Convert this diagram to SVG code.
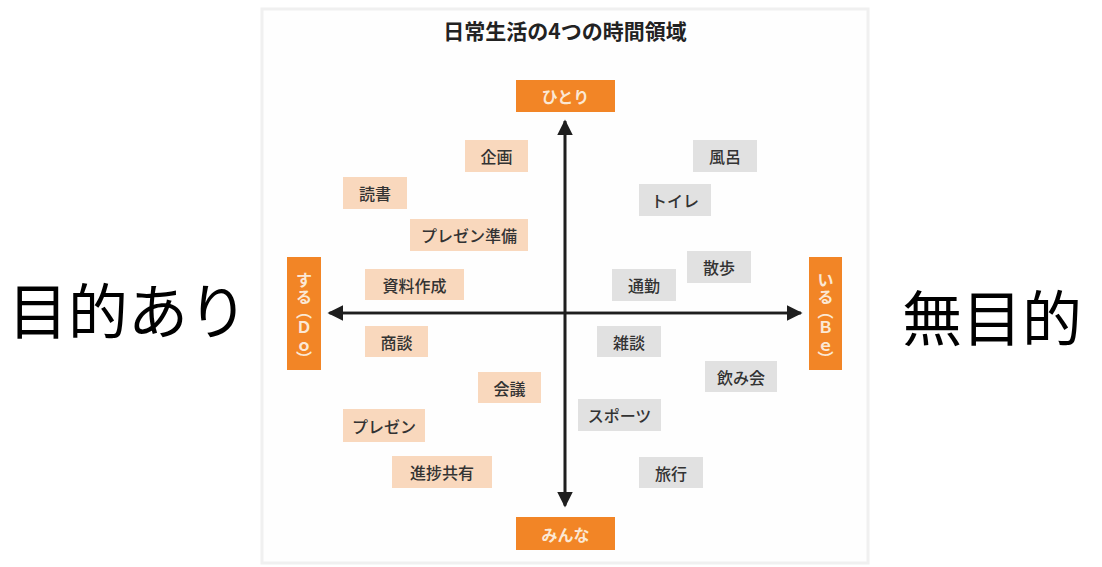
<svg xmlns="http://www.w3.org/2000/svg" width="1102" height="567" viewBox="0 0 1102 567">
<defs>
<style>
text{font-family:"Noto Sans CJK JP","Noto Sans",sans-serif}
.title{font-size:21px;font-weight:bold;fill:#222}
.ax{fill:#f28526}
.axt{font-size:16px;fill:#fbe8d4;font-weight:bold}
.do{fill:#f9d8bd}
.be{fill:#e1e1e1}
.lt{font-size:16px;fill:#333;font-weight:500}
.big{font-size:60px;fill:#000}
.vt{font-size:16px;fill:#fbe8d4;font-weight:bold}
.line{stroke:#1e1e1e;stroke-width:2.6;fill:none}
</style>
<marker id="ah" viewBox="0 0 10 10" refX="9" refY="5" markerWidth="6" markerHeight="6" orient="auto" markerUnits="strokeWidth">
<path d="M0,0 L10,5 L0,10 z" fill="#1e1e1e"/>
</marker>
</defs>
<rect x="0" y="0" width="1102" height="567" fill="#fff"/>
<rect x="262" y="9" width="606" height="554" fill="#fefefe" stroke="#f0f0f0" stroke-width="3"/>
<text class="title" x="565" y="30" text-anchor="middle" dominant-baseline="central">日常生活の4つの時間領域</text>

<g id="connectors">
<line class="line" x1="565" y1="505" x2="565" y2="121" marker-end="url(#ah)"/>
<line class="line" x1="565" y1="121" x2="565" y2="506" marker-end="url(#ah)"/>
<line class="line" x1="330" y1="313" x2="801" y2="313" marker-end="url(#ah)"/>
<line class="line" x1="801" y1="313" x2="329" y2="313" marker-end="url(#ah)"/>
</g>

<g id="hitori"><rect class="ax" x="516" y="80" width="99" height="32"/><text class="axt" x="565.5" y="96" text-anchor="middle" dominant-baseline="central">ひとり</text></g>
<g id="minna"><rect class="ax" x="516" y="517" width="99" height="33"/><text class="axt" x="565.5" y="533.5" text-anchor="middle" dominant-baseline="central">みんな</text></g>
<g id="suru"><rect class="ax" x="287" y="257" width="34" height="113"/><text class="vt" x="304 304 304 304 304 304" y="279 296 310 326 344 358" text-anchor="middle" dominant-baseline="central">する︵Ｄｏ︶</text></g>
<g id="iru"><rect class="ax" x="809" y="257" width="33" height="113"/><text class="vt" x="825.5 825.5 825.5 825.5 825.5 825.5" y="279 296 310 326 344 358" text-anchor="middle" dominant-baseline="central">いる︵Ｂｅ︶</text></g>

<g id="kikaku"><rect class="do" x="465" y="140" width="63" height="32"/><text class="lt" x="496.5" y="156" text-anchor="middle" dominant-baseline="central">企画</text></g>
<g id="dokusho"><rect class="do" x="343" y="177" width="64" height="32"/><text class="lt" x="375" y="193" text-anchor="middle" dominant-baseline="central">読書</text></g>
<g id="prezen-junbi"><rect class="do" x="410" y="219" width="118" height="32"/><text class="lt" x="469" y="235" text-anchor="middle" dominant-baseline="central">プレゼン準備</text></g>
<g id="shiryo"><rect class="do" x="365" y="269" width="99" height="31"/><text class="lt" x="414.5" y="284.5" text-anchor="middle" dominant-baseline="central">資料作成</text></g>
<g id="shodan"><rect class="do" x="365" y="326" width="63" height="31"/><text class="lt" x="396.5" y="341.5" text-anchor="middle" dominant-baseline="central">商談</text></g>
<g id="kaigi"><rect class="do" x="478" y="372" width="63" height="31"/><text class="lt" x="509.5" y="387.5" text-anchor="middle" dominant-baseline="central">会議</text></g>
<g id="prezen"><rect class="do" x="343" y="409" width="82" height="33"/><text class="lt" x="384" y="425.5" text-anchor="middle" dominant-baseline="central">プレゼン</text></g>
<g id="shinchoku"><rect class="do" x="392" y="456" width="100" height="32"/><text class="lt" x="442" y="472" text-anchor="middle" dominant-baseline="central">進捗共有</text></g>

<g id="furo"><rect class="be" x="693" y="140" width="64" height="32"/><text class="lt" x="725" y="156" text-anchor="middle" dominant-baseline="central">風呂</text></g>
<g id="toire"><rect class="be" x="639" y="184" width="72" height="32"/><text class="lt" x="675" y="200" text-anchor="middle" dominant-baseline="central">トイレ</text></g>
<g id="sanpo"><rect class="be" x="687" y="251" width="64" height="32"/><text class="lt" x="719" y="267" text-anchor="middle" dominant-baseline="central">散歩</text></g>
<g id="tsukin"><rect class="be" x="612" y="269" width="64" height="32"/><text class="lt" x="644" y="285" text-anchor="middle" dominant-baseline="central">通勤</text></g>
<g id="zatsudan"><rect class="be" x="597" y="326" width="64" height="31"/><text class="lt" x="629" y="341.5" text-anchor="middle" dominant-baseline="central">雑談</text></g>
<g id="nomikai"><rect class="be" x="705" y="361" width="72" height="31"/><text class="lt" x="741" y="376.5" text-anchor="middle" dominant-baseline="central">飲み会</text></g>
<g id="sports"><rect class="be" x="578" y="399" width="83" height="32"/><text class="lt" x="619.5" y="415" text-anchor="middle" dominant-baseline="central">スポーツ</text></g>
<g id="ryoko"><rect class="be" x="639" y="457" width="64" height="31"/><text class="lt" x="671" y="472.5" text-anchor="middle" dominant-baseline="central">旅行</text></g>

<text class="big" x="8" y="334">目的あり</text>
<text class="big" x="902" y="341">無目的</text>
</svg>
